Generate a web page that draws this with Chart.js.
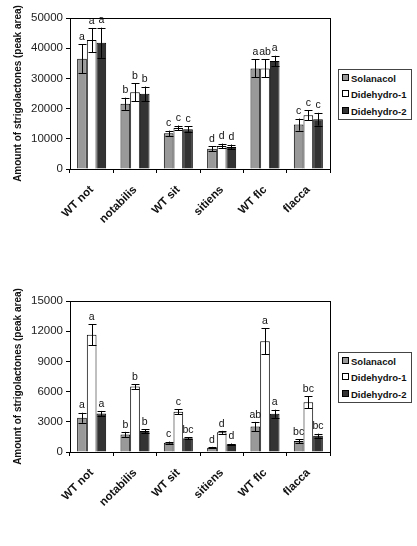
<!DOCTYPE html>
<html>
<head>
<meta charset="utf-8">
<script src="https://cdn.jsdelivr.net/npm/chart.js@4"></script>
<style>
  body { margin: 0; background: #fff; font-family: "Liberation Sans", Arial, sans-serif; }
  .wrap { position: absolute; left: 0; width: 417px; }
  .legend { position: absolute; left: 338px; width: 72px; height: 49px; border: 1px solid #444; background: #fff; }
  .legend div { position: absolute; left: 3px; font-size: 9.5px; font-weight: bold; color: #111; line-height: 12px; white-space: nowrap; }
  .legend span { display: inline-block; width: 5px; height: 5px; border: 1px solid #000; margin-right: 2px; vertical-align: 1px; }
</style>
</head>
<body>
<div class="wrap" style="top:0;height:260px"><canvas id="topChart"></canvas></div>
<div class="wrap" style="top:260px;height:286px"><canvas id="bottomChart"></canvas></div>
<div class="legend" style="top:69px">
  <div style="top:3px"><span style="background:#999"></span>Solanacol</div>
  <div style="top:19px"><span style="background:#fff"></span>Didehydro-1</div>
  <div style="top:36px"><span style="background:#333"></span>Didehydro-2</div>
</div>
<div class="legend" style="top:352px">
  <div style="top:3px"><span style="background:#999"></span>Solanacol</div>
  <div style="top:19px"><span style="background:#fff"></span>Didehydro-1</div>
  <div style="top:36px"><span style="background:#333"></span>Didehydro-2</div>
</div>
<script>
// --- data ---
const categories = ['WT not', 'notabilis', 'WT sit', 'sitiens', 'WT flc', 'flacca'];

// top panel
const solTop = [36500, 21600, 11800, 6700, 33300, 14700];
const solTopErr = [4800, 2000, 900, 800, 3000, 2000];
const d1Top = [42700, 25400, 13600, 7600, 33300, 17800];
const d1TopErr = [4000, 3000, 800, 800, 3000, 1700];
const d2Top = [41800, 24900, 13200, 7300, 35800, 16500];
const d2TopErr = [5000, 2400, 900, 800, 1700, 2100];
const solTopLetters = ['a', 'b', 'c', 'd', 'a', 'c'];
const d1TopLetters = ['a', 'b', 'c', 'd', 'ab', 'c'];
const d2TopLetters = ['a', 'b', 'c', 'd', 'a', 'c'];

// bottom panel
const solBot = [3400, 1750, 930, 430, 2540, 1090];
const solBotErr = [500, 250, 100, 80, 450, 200];
const d1Bot = [11650, 6500, 4000, 1950, 10990, 4950];
const d1BotErr = [1050, 250, 270, 150, 1300, 600];
const d2Bot = [3830, 2080, 1360, 760, 3800, 1620];
const d2BotErr = [250, 200, 100, 80, 400, 200];
const solBotLetters = ['a', 'b', 'c', 'd', 'ab', 'bc'];
const d1BotLetters = ['a', 'b', 'c', 'd', 'a', 'bc'];
const d2BotLetters = ['a', 'b', 'bc', 'd', 'a', 'bc'];

const seriesNames = ['Solanacol', 'Didehydro-1', 'Didehydro-2'];
const seriesColors = ['#999999', '#ffffff', '#333333'];

const FONT = '"Liberation Sans", Arial, sans-serif';

// error bars + significance letters, placed through the scales
const errorBarPlugin = {
  id: 'errorBars',
  afterDatasetsDraw(chart) {
    const ctx = chart.ctx;
    const yScale = chart.scales.y;
    ctx.save();
    ctx.strokeStyle = '#000';
    ctx.lineWidth = 1;
    ctx.fillStyle = '#111';
    ctx.font = '10.5px ' + FONT;
    ctx.textAlign = 'center';
    ctx.textBaseline = 'bottom';
    chart.data.datasets.forEach((ds, di) => {
      const meta = chart.getDatasetMeta(di);
      meta.data.forEach((bar, i) => {
        const v = ds.data[i], e = ds.errors[i];
        const yHi = yScale.getPixelForValue(v + e);
        const yLo = yScale.getPixelForValue(v - e);
        const x = Math.round(bar.x) + 0.5;
        ctx.beginPath();
        ctx.moveTo(x, yHi); ctx.lineTo(x, yLo);
        ctx.moveTo(x - 4, Math.round(yHi) + 0.5); ctx.lineTo(x + 4, Math.round(yHi) + 0.5);
        ctx.moveTo(x - 4, Math.round(yLo) + 0.5); ctx.lineTo(x + 4, Math.round(yLo) + 0.5);
        ctx.stroke();
        ctx.fillText(ds.letters[i], bar.x, yHi - 2);
      });
    });
    ctx.restore();
  }
};

const framePlugin = {
  id: 'frame',
  afterDraw(chart) {
    const a = chart.chartArea;
    const ctx = chart.ctx;
    ctx.save();
    ctx.strokeStyle = '#000';
    ctx.lineWidth = 1;
    ctx.strokeRect(Math.round(a.left) + 0.5, Math.round(a.top) + 0.5,
      Math.round(a.right - a.left), Math.round(a.bottom - a.top));
    ctx.restore();
  }
};

function makeChart(id, values, errors, letters, yMax, yStep, padTop, xHeight) {
  new Chart(document.getElementById(id), {
    type: 'bar',
    data: {
      labels: categories,
      datasets: values.map((vals, k) => ({
        label: seriesNames[k],
        data: vals,
        errors: errors[k],
        letters: letters[k],
        backgroundColor: seriesColors[k],
        borderColor: '#000',
        borderWidth: 1,
        borderSkipped: 'bottom',
        categoryPercentage: 0.67,
        barPercentage: 1.0
      }))
    },
    options: {
      responsive: true,
      maintainAspectRatio: false,
      animation: false,
      layout: { padding: { top: padTop, right: 87, left: 8, bottom: 0 } },
      plugins: { legend: { display: false }, tooltip: { enabled: false } },
      scales: {
        x: {
          offset: true,
          grid: { offset: true, drawOnChartArea: false, tickLength: 4, color: '#000' },
          border: { color: '#000' },
          ticks: {
            minRotation: 45, maxRotation: 45, padding: 10, color: '#111',
            font: { family: FONT, size: 11.5, weight: 'bold' }
          },
          afterFit(scale) { scale.height = xHeight; }
        },
        y: {
          min: 0, max: yMax,
          grid: { drawOnChartArea: false, tickLength: 4, color: '#000' },
          border: { color: '#000' },
          ticks: {
            stepSize: yStep, padding: 3, color: '#222', font: { family: FONT, size: 11.5 },
            callback: v => String(v)
          },
          title: {
            display: true, text: 'Amount of strigolactones (peak area)', color: '#111',
            font: { family: FONT, size: 10, weight: 'bold' }, padding: { top: 4, bottom: 4 }
          },
          afterFit(scale) { scale.width = 62; }
        }
      }
    },
    plugins: [errorBarPlugin, framePlugin]
  });
}

makeChart('topChart', [solTop, d1Top, d2Top], [solTopErr, d1TopErr, d2TopErr],
  [solTopLetters, d1TopLetters, d2TopLetters], 50000, 10000, 18, 91);
makeChart('bottomChart', [solBot, d1Bot, d2Bot], [solBotErr, d1BotErr, d2BotErr],
  [solBotLetters, d1BotLetters, d2BotLetters], 15000, 3000, 41, 94);
</script>
</body>
</html>
